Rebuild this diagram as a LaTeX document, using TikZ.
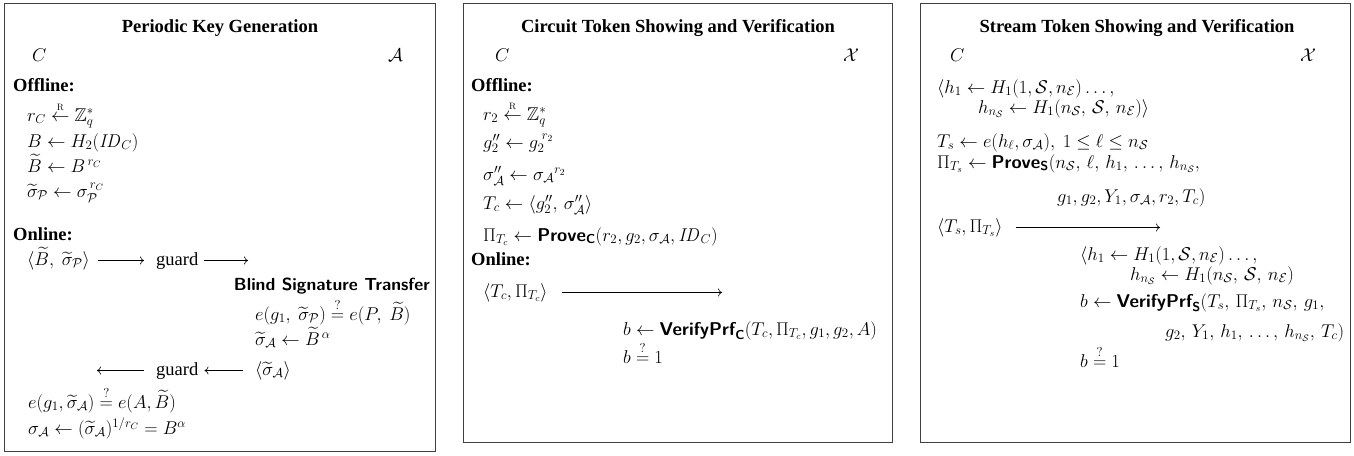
\RequirePackage{fix-cm}
\documentclass[tikz,border=0pt]{standalone}
\usepackage{amsmath,amssymb}
\usepackage[no-math]{fontspec}
\setmainfont{Liberation Serif}
\usetikzlibrary{arrows.meta}
\newcommand{\proc}[1]{\text{\sffamily\bfseries #1}}
\newcommand{\rnd}{\overset{\scriptscriptstyle\mathrm{R}}{\leftarrow}}
\newcommand{\qeq}{\stackrel{?}{=}}
\tikzset{
  panel/.style={draw=black!75, line width=0.8pt},
  ptitle/.style={anchor=base, inner sep=0pt, font=\fontsize{18.5}{22}\selectfont\bfseries},
  txt/.style={anchor=base west, inner sep=0pt, font=\fontsize{18.5}{22}\selectfont},
  txte/.style={anchor=base east, inner sep=0pt, font=\fontsize{17.5}{21}\selectfont},
  msg/.style={-{To[length=4pt,width=8pt]}, line width=0.6pt},
}
\begin{document}
\begin{tikzpicture}[x=1pt, y=-1pt]
\useasboundingbox (0,0) rectangle (1354,455);
% panels
\draw[panel] (4.5,3.5) rectangle (435.5,451.5);
\draw[panel] (463.5,3.5) rectangle (892.5,442.5);
\draw[panel] (920.5,3.5) rectangle (1350.5,442.5);

% ---------- Panel 1 ----------
\node[ptitle] (t1) at (220,32) {Periodic Key Generation};
\node[txt] (c1) at (32,61) {$C$};
\node[txt] (a1) at (388,61) {$\mathcal{A}$};
\node[txt] (off1) at (13,91) {\textbf{Offline:}};
\node[txt] (p1a) at (27,121) {$r_C \rnd \mathbb{Z}_q^*$};
\node[txt] (p1b) at (27,147) {$B \leftarrow H_2(\mathit{ID}_C)$};
\node[txt] (p1c) at (27,172) {$\widetilde{B} \leftarrow B^{\,r_C}$};
\node[txt] (p1d) at (27,197) {$\widetilde{\sigma}_{\mathcal{P}} \leftarrow \sigma_{\mathcal{P}}^{\,r_C}$};
\node[txt] (on1) at (13,240) {\textbf{Online:}};
\node[txt] (m1) at (27,265) {$\langle \widetilde{B},\ \widetilde{\sigma}_{\mathcal{P}}\rangle$};
\node[txt] (gd1) at (156,265) {guard};
\coordinate (e1) at (248,260.5);
\draw[msg] ([shift={(8,-4.5)}]m1.base east) -- ([shift={(-12,-4.5)}]gd1.base west);
\draw[msg] ([shift={(5,-4.5)}]gd1.base east) -- (e1);
\node[txte] (bst) at (430,290) {\sffamily\bfseries Blind Signature Transfer};
\node[txt] (v1a) at (255,320) {$e(g_1,\ \widetilde{\sigma}_{\mathcal{P}}) \qeq e(P,\ \widetilde{B})$};
\node[txt] (v1b) at (255,345) {$\widetilde{\sigma}_{\mathcal{A}} \leftarrow \widetilde{B}^{\,\alpha}$};
\node[txt] (r1) at (255,375) {$\langle \widetilde{\sigma}_{\mathcal{A}}\rangle$};
\node[txt] (gd2) at (156,375) {guard};
\coordinate (e2) at (97,370.5);
\draw[msg] ([shift={(-12,-4.5)}]r1.base west) -- ([shift={(6,-4.5)}]gd2.base east);
\draw[msg] ([shift={(-12,-4.5)}]gd2.base west) -- (e2);
\node[txt] (p1e) at (28,408) {$e(g_1, \widetilde{\sigma}_{\mathcal{A}}) \qeq e(A, \widetilde{B})$};
\node[txt] (p1f) at (28,434) {$\sigma_{\mathcal{A}} \leftarrow (\widetilde{\sigma}_{\mathcal{A}})^{1/r_C} = B^{\alpha}$};

% ---------- Panel 2 ----------
\node[ptitle] (t2) at (678,32) {Circuit Token Showing and Verification};
\node[txt] (c2) at (495,61) {$C$};
\node[txt] (x2) at (843,61) {$\mathcal{X}$};
\node[txt] (off2) at (471,91) {\textbf{Offline:}};
\node[txt] (p2a) at (483,120) {$r_2 \rnd \mathbb{Z}_q^*$};
\node[txt] (p2b) at (483,148) {$g_2'' \leftarrow g_2^{\;r_2}$};
\node[txt] (p2c) at (483,180) {$\sigma''_{\mathcal{A}} \leftarrow {\sigma_{\mathcal{A}}}^{r_2}$};
\node[txt] (p2d) at (483,209) {$T_c \leftarrow \langle g_2'',\, \sigma''_{\mathcal{A}}\rangle$};
\node[txt] (p2e) at (483,241) {$\Pi_{T_c} \leftarrow \proc{Prove}_{\proc{C}}(r_2, g_2, \sigma_{\mathcal{A}}, \mathit{ID}_C)$};
\node[txt] (on2) at (471,265) {\textbf{Online:}};
\node[txt] (m2) at (483,297) {$\langle T_c, \Pi_{T_c}\rangle$};
\coordinate (e3) at (722,292.5);
\draw[msg] ([shift={(14,-4.5)}]m2.base east) -- (e3);
\node[txt] (v2a) at (623,335) {$b \leftarrow \proc{VerifyPrf}_{\proc{C}}(T_c, \Pi_{T_c}, g_1, g_2, A)$};
\node[txt] (v2b) at (623,363) {$b \qeq 1$};

% ---------- Panel 3 ----------
\node[ptitle] (t3) at (1137,32) {Stream Token Showing and Verification};
\node[txt] (c3) at (950,61) {$C$};
\node[txt] (x3) at (1300,61) {$\mathcal{X}$};
\node[txt] (p3a) at (937,93) {$\langle h_1 \leftarrow H_1(1, \mathcal{S}, n_{\mathcal{E}})\ldots,$};
\node[txt] (p3b) at (978,113) {$h_{n_{\mathcal{S}}} \leftarrow H_1(n_{\mathcal{S}},\, \mathcal{S},\, n_{\mathcal{E}})\rangle$};
\node[txt] (p3c) at (937,147) {$T_s \leftarrow e(h_\ell, \sigma_{\mathcal{A}}),\ 1 \le \ell \le n_{\mathcal{S}}$};
\node[txt] (p3d) at (937,168) {$\Pi_{T_s} \leftarrow \proc{Prove}_{\proc{S}}(n_{\mathcal{S}},\, \ell,\, h_1,\, \ldots,\, h_{n_{\mathcal{S}}},$};
\node[txt] (p3e) at (1057,202) {$g_1, g_2, Y_1, \sigma_{\mathcal{A}}, r_2, T_c)$};
\node[txt] (m3) at (937,232) {$\langle T_s, \Pi_{T_s}\rangle$};
\coordinate (e4) at (1160,227.5);
\draw[msg] ([shift={(13,-4.5)}]m3.base east) -- (e4);
\node[txt] (v3a) at (1080,260) {$\langle h_1 \leftarrow H_1(1, \mathcal{S}, n_{\mathcal{E}})\ldots,$};
\node[txt] (v3b) at (1130,280) {$h_{n_{\mathcal{S}}} \leftarrow H_1(n_{\mathcal{S}},\, \mathcal{S},\, n_{\mathcal{E}})$};
\node[txt] (v3c) at (1080,307) {$b \leftarrow \proc{VerifyPrf}_{\proc{S}}(T_s,\, \Pi_{T_s},\, n_{\mathcal{S}},\, g_1,$};
\node[txt] (v3d) at (1165,337) {$g_2,\, Y_1,\, h_1,\, \ldots,\, h_{n_{\mathcal{S}}},\, T_c)$};
\node[txt] (v3e) at (1080,367) {$b \qeq 1$};
\end{tikzpicture}
\end{document}
